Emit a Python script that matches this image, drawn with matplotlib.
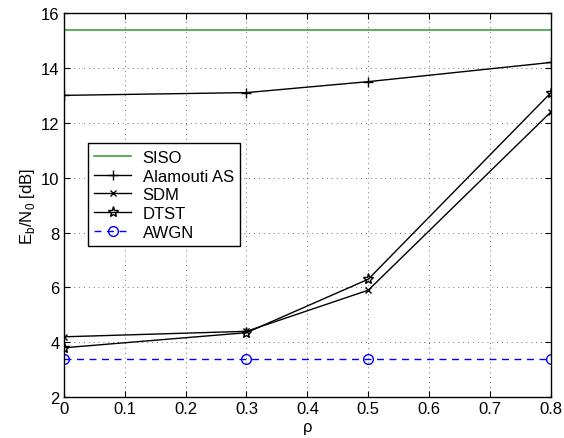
import matplotlib
matplotlib.use('Agg')
import matplotlib.pyplot as plt

plt.rcParams['font.family'] = ['Liberation Sans', 'DejaVu Sans']
plt.rcParams['font.size'] = 12

rho = [0, 0.3, 0.5, 0.8]
siso = [15.4, 15.4, 15.4, 15.4]
alamouti = [13.0, 13.1, 13.5, 14.2]
sdm = [4.2, 4.4, 5.9, 12.4]
dtst = [3.8, 4.35, 6.3, 13.1]
awgn = [3.4, 3.4, 3.4, 3.4]

fig = plt.figure(figsize=(5.64, 4.39), dpi=100)
ax = fig.add_axes([0.113, 0.093, 0.864, 0.875])

ax.plot(rho, siso, color='#3ca03c', lw=1.2, label='SISO')
ax.plot(rho, alamouti, 'k-', marker='+', ms=7, mew=1, lw=1, label='Alamouti AS')
ax.plot(rho, sdm, 'k-', marker='x', ms=5, mew=1, lw=1, label='SDM')
ax.plot(rho, dtst, 'k-', marker='*', ms=8, mfc='none', mew=1, lw=1, label='DTST')
ax.plot(rho, awgn, color='b', ls='--', dashes=(5, 4), marker='o', ms=7, mfc='none',
        mew=1, lw=1, label='AWGN')

ax.set_xlim(0, 0.8)
ax.set_ylim(2, 16)
ax.set_xticks([0, 0.1, 0.2, 0.3, 0.4, 0.5, 0.6, 0.7, 0.8])
ax.set_xticklabels(['0', '0.1', '0.2', '0.3', '0.4', '0.5', '0.6', '0.7', '0.8'])
ax.set_yticks(range(2, 17, 2))
ax.tick_params(direction='in', top=True, right=True, length=4, pad=3)
ax.grid(True, ls=(0, (1, 4)), color='#707070', lw=0.7)
for s in ax.spines.values():
    s.set_linewidth(1)

ax.set_xlabel('ρ', labelpad=2)
ax.set_ylabel('E$_\\mathregular{b}$/N$_\\mathregular{0}$ [dB]', labelpad=3)

leg = ax.legend(loc='lower left', bbox_to_anchor=(0.049, 0.393), borderaxespad=0,
                fancybox=False, edgecolor='k', framealpha=1, handlelength=2.2,
                borderpad=0.4, labelspacing=0.22, handletextpad=0.7, fontsize=12)
leg.get_frame().set_linewidth(1)

fig.savefig('out.png', dpi=100)
